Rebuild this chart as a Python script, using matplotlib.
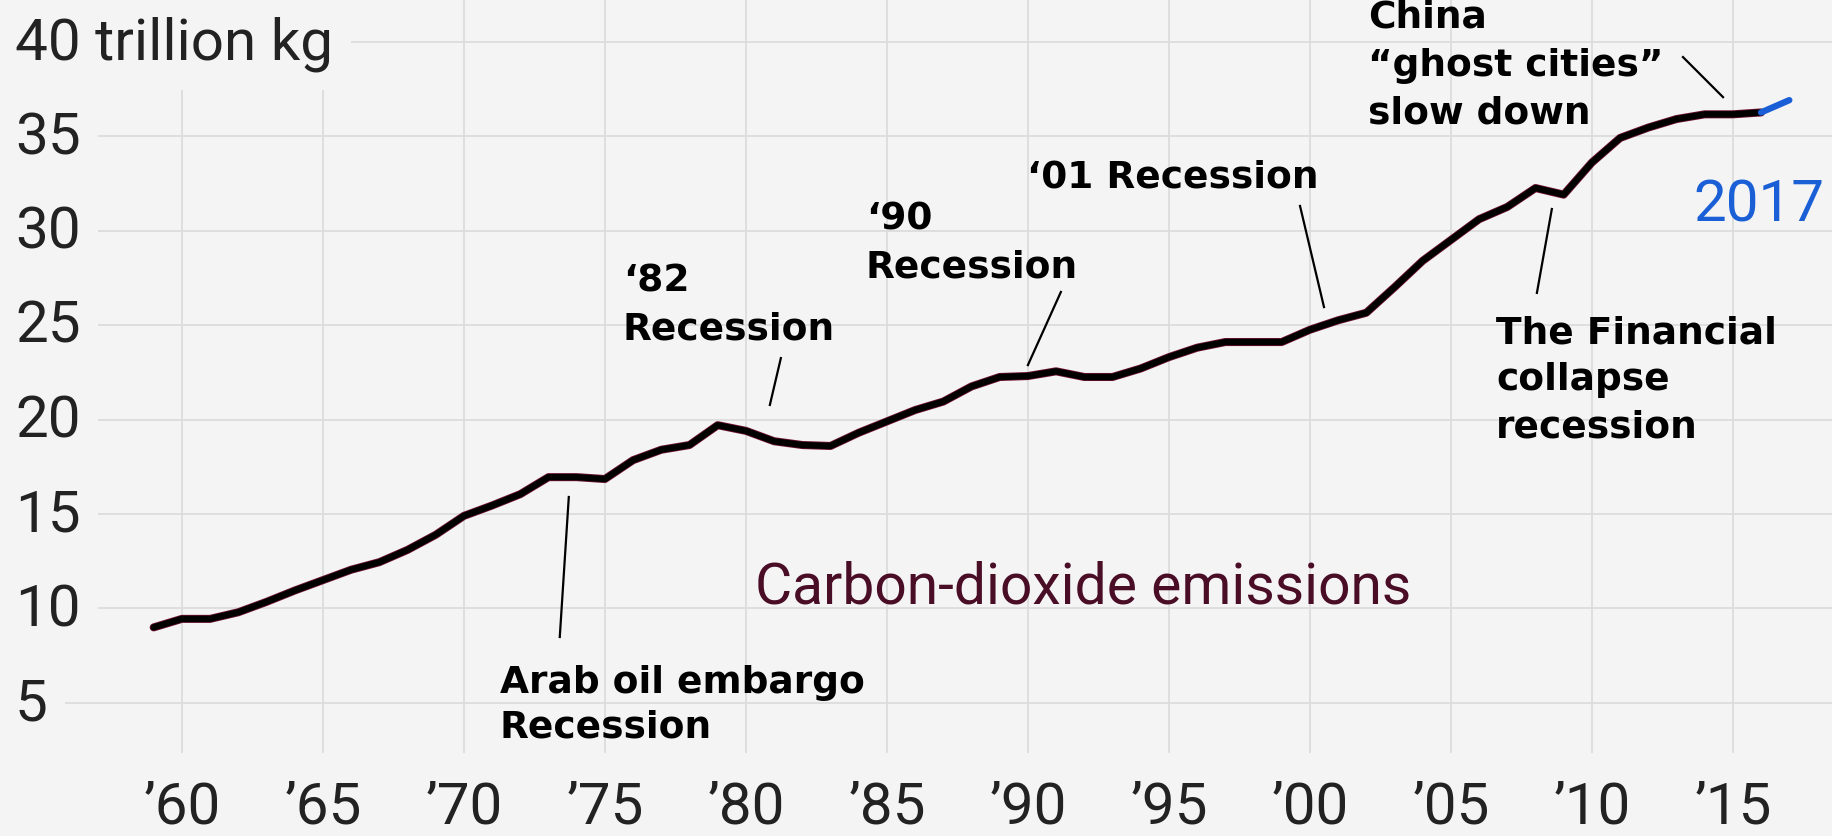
import matplotlib.pyplot as plt
from matplotlib import transforms

# world CO2 emissions, trillion kg
years = list(range(1959, 2018))
emissions = [9.0, 9.45, 9.45, 9.8, 10.35, 10.95, 11.5, 12.05, 12.45, 13.1,
             13.9, 14.9, 15.45, 16.05, 16.95, 16.95, 16.85, 17.85, 18.4, 18.65,
             19.7, 19.4, 18.85, 18.65, 18.6, 19.3, 19.9, 20.5, 20.95, 21.75,
             22.25, 22.3, 22.55, 22.25, 22.25, 22.7, 23.3, 23.8, 24.1, 24.1,
             24.1, 24.75, 25.25, 25.65, 27.0, 28.4, 29.5, 30.6, 31.25, 32.25,
             31.9, 33.6, 34.9, 35.45, 35.9, 36.15, 36.15, 36.25, 36.9]

x_ticks = [1960, 1965, 1970, 1975, 1980, 1985, 1990, 1995, 2000, 2005, 2010, 2015]
x_tick_labels = ["’60", "’65", "’70", "’75", "’80", "’85", "’90", "’95",
                 "’00", "’05", "’10", "’15"]
y_ticks = [5, 10, 15, 20, 25, 30, 35, 40]
y_tick_labels = ["5", "10", "15", "20", "25", "30", "35", "40 trillion kg"]

# (text x px, baseline y px, text)
notes = [
    (1368, 28, "China"), (1368, 75.5, "“ghost cities”"), (1368, 123, "slow down"),
    (1027, 187, "‘01 Recession"),
    (866, 230, "‘90"), (866, 278, "Recession"),
    (623, 292, "‘82"), (623, 340, "Recession"),
    (500, 693, "Arab oil embargo"), (500, 737, "Recession"),
    (1496, 343, "The Financial"), (1496, 390.5, "collapse"), (1496, 438, "recession"),
]
# pointer lines, (year, value) -> (year, value)
pointers = [
    ((1973.72, 15.9), (1973.40, 8.49)),
    ((1981.24, 23.25), (1980.85, 20.77)),
    ((1991.17, 26.75), (1990.0, 22.88)),
    ((1999.65, 31.3), (2000.5, 25.95)),
    ((2008.58, 31.14), (2008.05, 26.7)),
    ((2013.23, 39.18), (2014.65, 37.06)),
]

W, H = 1833, 836
bg = "#f4f4f4"
grid_c = "#dcdcdc"
tick_font = ["Roboto", "DejaVu Sans"]
note_font = ["DejaVu Sans"]

fig = plt.figure(figsize=(W / 100, H / 100), dpi=100, facecolor=bg)
ax = fig.add_axes([0, 0, 1, 1])
ax.set_xlim(1953.55, 2018.55)
ax.set_ylim(-2.04, 42.2)
ax.axis("off")

# grid
for v in y_ticks:
    ax.axhline(v, color=grid_c, lw=1.3, zorder=1)
ax.vlines(x_ticks, 2.35, 42.2, color=grid_c, lw=1.3, zorder=1)

# tick labels
ty = transforms.blended_transform_factory(ax.transAxes, ax.transData)
for v, lab in zip(y_ticks, y_tick_labels):
    ax.text(15 / W, v - 0.95, lab, transform=ty, ha="left", va="baseline",
            fontsize=42, family=tick_font, color="#222222",
            zorder=3, bbox=dict(boxstyle="square,pad=0.3", fc=bg, ec="none"))
tx = transforms.blended_transform_factory(ax.transData, ax.transAxes)
for yr, lab in zip(x_ticks, x_tick_labels):
    ax.text(yr, 1 - 824 / H, lab, transform=tx, ha="center", va="baseline",
            fontsize=42, family=tick_font, color="#222222")

# the series
ax.plot(years[:-1], emissions[:-1], color="#6e1232", lw=5.8,
        solid_joinstyle="round", solid_capstyle="round", zorder=4)
ax.plot(years[:-1], emissions[:-1], color="black", lw=4.6,
        solid_joinstyle="round", solid_capstyle="round", zorder=5)
ax.plot(years[-2:], emissions[-2:], color="#1a5fd6", lw=4.6,
        solid_capstyle="round", zorder=5)

# annotations
for (x0, y0), (x1, y1) in pointers:
    ax.plot([x0, x1], [y0, y1], color="black", lw=1.6, zorder=3)
for px, py, s in notes:
    fig.text(px / W, 1 - py / H, s, ha="left", va="baseline", fontsize=27,
             family=note_font, fontweight="bold", color="black")

fig.text(1824 / W, 1 - 222 / H, "2017", ha="right", va="baseline", fontsize=42,
         family=tick_font, color="#1a5fd6")
fig.text(755 / W, 1 - 603 / H, "Carbon-dioxide emissions", ha="left",
         va="baseline", fontsize=41, family=tick_font, color="#4a0d26")

fig.savefig("out.png", dpi=100, facecolor=bg)
